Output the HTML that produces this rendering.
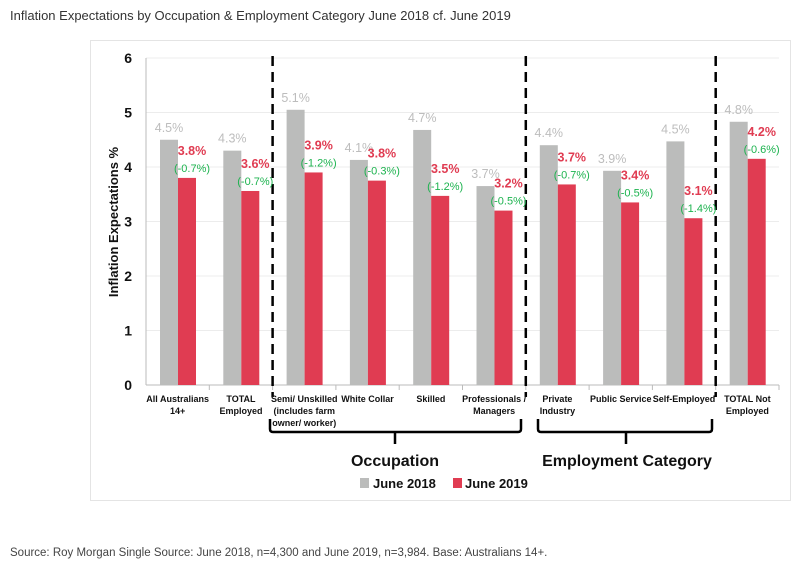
<!DOCTYPE html>
<html><head><meta charset="utf-8"><style>
body{margin:0;background:#fff;width:800px;height:575px;overflow:hidden;font-family:"Liberation Sans",sans-serif}
</style></head><body>
<svg width="800" height="575" xmlns="http://www.w3.org/2000/svg">
<text x="10" y="20" font-size="13" fill="#333">Inflation Expectations by Occupation &amp; Employment Category June 2018 cf. June 2019</text>
<rect x="90.5" y="40.5" width="700" height="460" fill="#fff" stroke="#e4e4e4"/>
<g id="grid"></g><g id="bars"></g><g id="labels"></g>
<text transform="translate(118,222) rotate(-90)" text-anchor="middle" font-size="13" font-weight="bold" fill="#111">Inflation Expectations %</text>
<g fill="none" stroke="#000" stroke-width="2.5"><path d="M270,419 v10 q0,3 3,3 h245 q3,0 3,-3 v-10 M395,432 v12"/></g>
<g fill="none" stroke="#000" stroke-width="2.5"><path d="M538,419 v10 q0,3 3,3 h168 q3,0 3,-3 v-10 M626,432 v12"/></g>
<text x="395" y="466" text-anchor="middle" font-size="16" font-weight="bold" fill="#111">Occupation</text>
<text x="627" y="466" text-anchor="middle" font-size="16" font-weight="bold" fill="#111">Employment Category</text>
<rect x="360" y="478" width="9" height="10" fill="#bbbcbb"/>
<text x="373" y="488" font-size="13" font-weight="bold" fill="#111">June 2018</text>
<rect x="453" y="478" width="9" height="10" fill="#e03c52"/>
<text x="465" y="488" font-size="13" font-weight="bold" fill="#111">June 2019</text>
<text x="10" y="556" font-size="11.5" fill="#444">Source: Roy Morgan Single Source: June 2018, n=4,300 and June 2019, n=3,984. Base: Australians 14+.</text>
</svg>
<script>
const categories=[["All Australians","14+"],["TOTAL","Employed"],["Semi/ Unskilled","(includes farm","owner/ worker)"],["White Collar"],["Skilled"],["Professionals /","Managers"],["Private","Industry"],["Public Service"],["Self-Employed"],["TOTAL Not","Employed"]];
const june2018=[4.5,4.3,5.05,4.13,4.68,3.65,4.4,3.93,4.47,4.83];
const june2019=[3.8,3.56,3.9,3.75,3.47,3.2,3.68,3.35,3.06,4.15];
const label2018=["4.5%","4.3%","5.1%","4.1%","4.7%","3.7%","4.4%","3.9%","4.5%","4.8%"];
const label2019=["3.8%","3.6%","3.9%","3.8%","3.5%","3.2%","3.7%","3.4%","3.1%","4.2%"];
const changes=["(-0.7%)","(-0.7%)","(-1.2%)","(-0.3%)","(-1.2%)","(-0.5%)","(-0.7%)","(-0.5%)","(-1.4%)","(-0.6%)"];
const yTicks=[0,1,2,3,4,5,6];
const dividers=[2,6,9];
const NS="http://www.w3.org/2000/svg";
const X0=146,X1=779,Y0=385,Y1=58,yMax=6;
const cw=(X1-X0)/categories.length;
const y=v=>Y0-(v/yMax)*(Y0-Y1);
const xc=i=>X0+i*cw;
function mk(tag,attrs,parent,txt){const e=document.createElementNS(NS,tag);for(const k in attrs)e.setAttribute(k,attrs[k]);if(txt!==undefined)e.textContent=txt;parent.appendChild(e);return e;}
const grid=document.getElementById('grid'),bars=document.getElementById('bars'),labels=document.getElementById('labels');
yTicks.forEach(t=>{
 if(t>0){const g=mk('line',{x1:X0,x2:X1,y1:y(t),y2:y(t),stroke:'#ececec'},grid);
 
 }
 const tl=mk('text',{x:X0-14,y:y(t)+5,'text-anchor':'end','font-size':14,'font-weight':'bold',fill:'#111'},grid,String(t));
 
 
});
const ax=mk('line',{x1:X0,x2:X0,y1:Y1,y2:Y0,stroke:'#bbb'},grid);


const xa=mk('line',{x1:X0,x2:X1,y1:Y0,y2:Y0,stroke:'#bbb'},grid);


categories.forEach((c,i)=>{
 const x=xc(i),bw=18,gx=x+14,rx=gx+bw;
 const tk=mk('line',{x1:x+cw,x2:x+cw,y1:Y0,y2:Y0+5,stroke:'#bbb'},grid);
 
 
 const g=mk('rect',{x:gx,y:y(june2018[i]),width:bw,height:Y0-y(june2018[i]),fill:'#bbbcbb'},bars);
 
 
 const r=mk('rect',{x:rx,y:y(june2019[i]),width:bw,height:Y0-y(june2019[i]),fill:'#e03c52'},bars);
 
 
 const l1=mk('text',{x:gx+bw/2,y:y(june2018[i])-8,'text-anchor':'middle','font-size':12.5,fill:'#bdbdbd'},labels,label2018[i]);
 
 
 const l2=mk('text',{x:rx+bw/2+5,y:y(june2019[i])-23,'text-anchor':'middle','font-size':12.5,'font-weight':'bold',fill:'#e03c52'},labels,label2019[i]);
 
 
 const l3=mk('text',{x:rx+bw/2+5,y:y(june2019[i])-6,'text-anchor':'middle','font-size':11,fill:'#1db34f'},labels,changes[i]);
 
 
 c.forEach((line,j)=>{
  const t=mk('text',{x:x+cw/2,y:Y0+17+j*12,'text-anchor':'middle','font-size':9,'font-weight':'bold',fill:'#111'},labels,line);
  
  
 });
});
dividers.forEach(d=>{
 const l=mk('line',{x1:xc(d),x2:xc(d),y1:Y1-2,y2:Y0+12,stroke:'#000','stroke-width':2.5,'stroke-dasharray':'10,6'},bars);
 
 
});
</script>
</body></html>
